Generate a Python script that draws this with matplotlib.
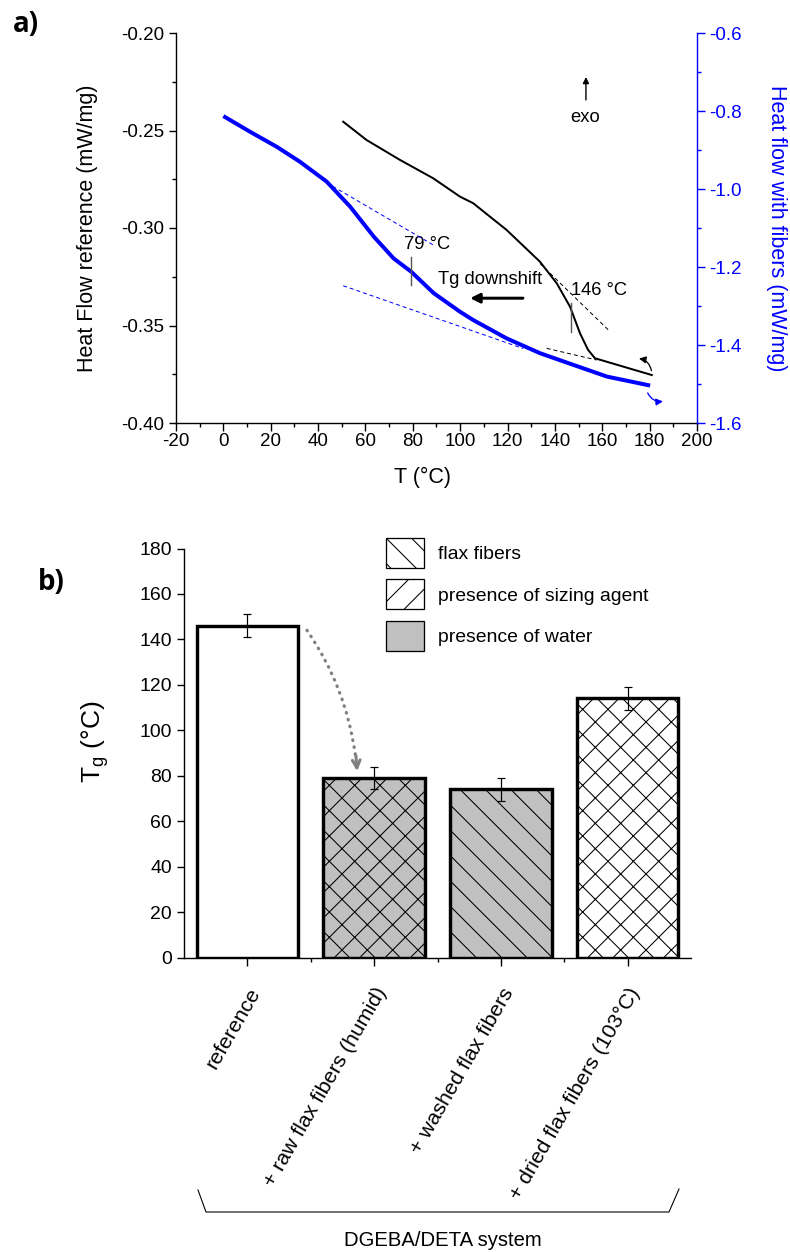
import matplotlib
matplotlib.use("Agg")
import matplotlib.pyplot as plt
from matplotlib.patches import Patch
from matplotlib.lines import Line2D
from matplotlib.ticker import MultipleLocator, FormatStrFormatter
import numpy as np

# ---------------- data ----------------
# panel a: DSC curves
black_T = [50.6, 60.5, 74.6, 88.6, 99.9, 105.5, 119.6, 133.7, 140.8, 146.4, 150.6, 154.0, 156.9, 168.9, 180.9]
black_v = [-0.2455, -0.2549, -0.2651, -0.2745, -0.2839, -0.2873, -0.3010, -0.3173, -0.3284, -0.3404,
           -0.3540, -0.3625, -0.3668, -0.3711, -0.3754]
blue_T = [0, 11.2, 22.6, 32.3, 43.6, 53.5, 63.5, 71.9, 79.3, 88.8, 100, 105.5, 119.6, 133.7, 147.8, 162, 180.2]
blue_v = [-0.813, -0.853, -0.892, -0.930, -0.981, -1.045, -1.122, -1.178, -1.212, -1.267, -1.315,
          -1.336, -1.383, -1.421, -1.451, -1.481, -1.504]
# tangent lines
black_tan1_T = [133.7, 162.6]; black_tan1_v = [-0.3182, -0.3523]
black_tan2_T = [136.5, 157.6]; black_tan2_v = [-0.3617, -0.3677]
blue_tan1_T = [43.6, 88.8]; blue_tan1_v = [-0.984, -1.144]
blue_tan2_T = [50.6, 126.6]; blue_tan2_v = [-1.248, -1.409]
tg_ref = 146
tg_fib = 79

# panel b: Tg bars
categories = ["reference", "+ raw flax fibers (humid)", "+ washed flax fibers", "+ dried flax fibers (103\u00b0C)"]
tg_values = [146, 79, 74, 114]
tg_errors = [5, 5, 5, 5]
bar_colors = ["white", "#c0c0c0", "#c0c0c0", "white"]
bar_hatches = ["", "x", "\\", "x"]
legend_labels = ["flax fibers", "presence of sizing agent", "presence of water"]

# ---------------- figure ----------------
DPI = 76
S = 100.0 / DPI  # sizes below are given as they would look at 100 dpi
PX = 72.0 / DPI  # points per pixel
plt.rcParams['font.family'] = ['Liberation Sans', 'DejaVu Sans']
plt.rcParams['axes.unicode_minus'] = False
plt.rcParams['hatch.linewidth'] = 1.0
fig = plt.figure(figsize=(790 / DPI, 1252 / DPI), dpi=DPI)

W, H = 790.0, 1252.0
def fx(px): return px / W
def fy(py): return 1 - py / H

TICK = 13.5 * S
LAB = 15.5 * S
ANN = 13.2 * S
BLUE = '#0000ff'

# ---- panel a ----
ax = fig.add_axes([fx(176), fy(423), (697 - 176) / W, (423 - 33) / H])
ax2 = ax.twinx()

ax.plot(black_T, black_v, color='black', lw=2.0 * PX)
ax.plot(black_tan1_T, black_tan1_v, color='black', lw=1.0 * PX, ls=(0, (4, 3)))
ax.plot(black_tan2_T, black_tan2_v, color='black', lw=1.0 * PX, ls=(0, (4, 3)))
ax2.plot(blue_T, blue_v, color=BLUE, lw=4.0 * PX, solid_capstyle='butt')
ax2.plot(blue_tan1_T, blue_tan1_v, color=BLUE, lw=1.0 * PX, ls=(0, (4, 3)))
ax2.plot(blue_tan2_T, blue_tan2_v, color=BLUE, lw=1.0 * PX, ls=(0, (4, 3)))

# Tg markers
ax2.plot([tg_fib + 0.3, tg_fib + 0.3], [-1.174, -1.246], color='#555555', lw=1.4 * PX)
ax.plot([tg_ref + 0.8, tg_ref + 0.8], [-0.3386, -0.3532], color='#555555', lw=1.4 * PX)
ax.text(86, -0.3087, "%d \u00b0C" % tg_fib, fontsize=ANN, ha='center', va='center')
ax.text(158.6, -0.3318, "%d \u00b0C" % tg_ref, fontsize=ANN, ha='center', va='center')
ax.text(112.7, -0.3262, "Tg downshift", fontsize=ANN, ha='center', va='center')
ax.annotate("", xy=(103.3, -0.336), xytext=(127.4, -0.336),
            arrowprops=dict(arrowstyle='-|>', color='black', lw=3.0 * PX, mutation_scale=14 * S))
ax.text(152.7, -0.2431, "exo", fontsize=ANN, ha='center', va='center')
ax.annotate("", xy=(153.1, -0.2215), xytext=(153.1, -0.2354),
            arrowprops=dict(arrowstyle='-|>', color='black', lw=1.4 * PX, mutation_scale=9 * S))
# small heating direction arrows
ax.annotate("", xy=(174.6, -0.3668), xytext=(180.9, -0.3742),
            arrowprops=dict(arrowstyle='-|>', color='black', lw=1.3 * PX, mutation_scale=10 * S,
                            connectionstyle='arc3,rad=0.4'))
ax2.annotate("", xy=(186.5, -1.544), xytext=(178.8, -1.518),
             arrowprops=dict(arrowstyle='-|>', color=BLUE, lw=1.3 * PX, mutation_scale=10 * S,
                             connectionstyle='arc3,rad=0.4'))

for a in (ax, ax2):
    a.spines['top'].set_visible(False)
ax.spines['right'].set_visible(False)
ax.spines['left'].set_linewidth(1.4 * PX)
ax.spines['bottom'].set_linewidth(1.4 * PX)
ax2.spines['left'].set_visible(False)
ax2.spines['bottom'].set_visible(False)
ax2.spines['right'].set_color(BLUE)
ax2.spines['right'].set_linewidth(1.4 * PX)

ax.xaxis.set_major_locator(MultipleLocator(20))
ax.xaxis.set_minor_locator(MultipleLocator(10))
ax.yaxis.set_major_locator(MultipleLocator(0.05))
ax.yaxis.set_minor_locator(MultipleLocator(0.025))
ax2.yaxis.set_major_locator(MultipleLocator(0.2))
ax2.yaxis.set_minor_locator(MultipleLocator(0.1))
ax.tick_params(which='major', direction='out', length=7.5 * PX, width=1.4 * PX, labelsize=TICK,
               pad=4.5 * PX)
ax.tick_params(axis='x', which='major', pad=2.5 * PX)
ax.tick_params(which='minor', direction='out', length=4.2 * PX, width=1.4 * PX)
ax2.tick_params(which='major', direction='out', length=7.5 * PX, width=1.4 * PX, labelsize=TICK,
                colors=BLUE, pad=4.5 * PX)
ax2.tick_params(which='minor', direction='out', length=4.2 * PX, width=1.4 * PX, colors=BLUE)
ax.set_xlim(-20, 200)
ax.set_ylim(-0.40, -0.20)
ax2.set_ylim(-1.6, -0.6)
ax.yaxis.set_major_formatter(FormatStrFormatter('%.2f'))
ax2.yaxis.set_major_formatter(FormatStrFormatter('%.1f'))

ax.set_xlabel("T (\u00b0C)", fontsize=LAB, va='center')
ax.xaxis.set_label_coords(0.473, (423 - 477) / 390.0)
ax.set_ylabel("Heat Flow reference (mW/mg)", fontsize=LAB, va='center', ha='center')
ax.yaxis.set_label_coords((88 - 176) / 521.0, 0.5)
ax2.set_ylabel("Heat flow with fibers (mW/mg)", fontsize=LAB, color=BLUE, rotation=-90,
               va='center', ha='center')
ax2.yaxis.set_label_coords((777 - 176) / 521.0, 0.5)

fig.text(fx(13), fy(24), "a)", fontsize=20 * S, fontweight='bold', family=['Open Sans', 'DejaVu Sans'],
         va='center', ha='left')

# ---- panel b ----
bx = fig.add_axes([fx(184), fy(957.5), (691 - 184) / W, (957.5 - 548.5) / H])
xpos = np.arange(len(categories)) + 0.5
for i in range(len(categories)):
    bx.bar(xpos[i], tg_values[i], width=0.8, color=bar_colors[i], edgecolor='black',
           linewidth=3.4 * PX, hatch=bar_hatches[i], zorder=2)
bx.errorbar(xpos, tg_values, yerr=tg_errors, fmt='none', ecolor='black', elinewidth=1.2 * PX,
            capsize=4.5 * PX, capthick=1.2 * PX, zorder=3)
bx.set_xlim(0, 4)
bx.set_ylim(0, 180)
bx.spines['top'].set_visible(False)
bx.spines['right'].set_visible(False)
bx.spines['left'].set_linewidth(1.4 * PX)
bx.spines['bottom'].set_linewidth(1.4 * PX)
bx.yaxis.set_major_locator(MultipleLocator(20))
bx.set_xticks(xpos)
bx.set_xticks([1, 2, 3], minor=True)
bx.set_xticklabels(categories, rotation=60, ha='right', va='top', rotation_mode='anchor',
                   fontsize=15.3 * S)
bx.tick_params(axis='y', which='major', direction='out', length=7.5 * PX, width=1.4 * PX,
               labelsize=14 * S, pad=4.5 * PX)
bx.tick_params(axis='x', which='major', direction='out', length=7.7 * PX, width=1.4 * PX,
               pad=19 * PX)
bx.tick_params(axis='x', which='minor', direction='out', length=3.8 * PX, width=1.4 * PX)
bx.set_ylabel("T$_\\mathregular{g}$ (\u00b0C)", fontsize=19 * S, va='center', ha='center')
bx.yaxis.set_label_coords((95 - 184) / 507.0, (957.5 - 742) / 409.0)

# dotted curved arrow (dotted path + solid open head)
bx.annotate("", xy=(1.352, 89), xytext=(0.97, 144),
            arrowprops=dict(arrowstyle='-', color='#808080', lw=3.2 * PX, ls=(0, (0.2, 2.0)),
                            capstyle='round', shrinkA=0, shrinkB=0,
                            connectionstyle='arc3,rad=-0.12'))
bx.annotate("", xy=(1.366, 82), xytext=(1.356, 89),
            arrowprops=dict(arrowstyle='->', color='#808080', lw=3.0 * PX, shrinkA=0, shrinkB=0,
                            mutation_scale=14 * S))

# legend
handles = [Patch(facecolor='white', edgecolor='black', hatch='\\', lw=1.3 * PX),
           Patch(facecolor='white', edgecolor='black', hatch='/', lw=1.3 * PX),
           Patch(facecolor='#c0c0c0', edgecolor='black', lw=1.3 * PX)]
leg = fig.legend(handles, legend_labels, loc='upper left', bbox_to_anchor=(fx(386), fy(538)),
                 frameon=False, fontsize=14 * S, handlelength=1.96, handleheight=2.0,
                 labelspacing=0.58, handletextpad=0.72, borderpad=0, borderaxespad=0)

# brace under the categories
bxs = [fx(198), fx(206), fx(669), fx(679)]
bys = [fy(1190), fy(1212), fy(1212), fy(1189)]
fig.add_artist(Line2D(bxs, bys, transform=fig.transFigure, color='black', lw=1.1 * PX))
fig.text(fx(443), fy(1240), "DGEBA/DETA system", fontsize=14.6 * S, ha='center', va='center')

fig.text(fx(38), fy(582), "b)", fontsize=20 * S, fontweight='bold', family=['Open Sans', 'DejaVu Sans'],
         va='center', ha='left')

fig.savefig("out.png", dpi=DPI)
